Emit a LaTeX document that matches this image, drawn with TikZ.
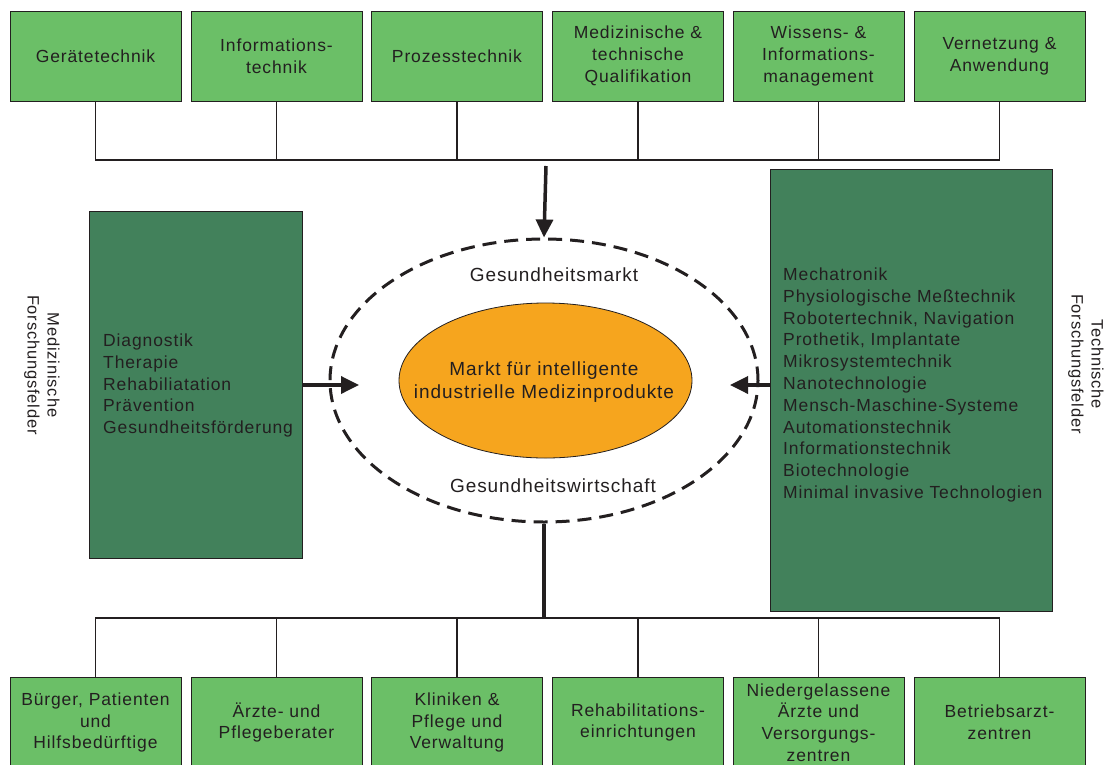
\documentclass[tikz,border=0pt]{standalone}
\usepackage{fontspec}
\setmainfont{Liberation Sans}[LetterSpace=5.0]
\usetikzlibrary{shapes.geometric,arrows.meta}

\definecolor{boxgreen}{RGB}{107,191,103}
\definecolor{fieldgreen}{RGB}{66,129,91}
\definecolor{marktorange}{RGB}{246,165,30}
\definecolor{inkgray}{RGB}{35,31,32}

\newcommand{\boxfont}{\fontsize{17.5}{21.8}\selectfont}
\newcommand{\midfont}{\fontsize{19}{23}\selectfont}
\newcommand{\sidefont}{\fontsize{16.5}{20}\selectfont}

\begin{document}
\begin{tikzpicture}[x=1pt, y=-1pt, font=\boxfont, text=inkgray,
    topic/.style={draw=inkgray, line width=0.8pt, fill=boxgreen, minimum width=171pt,
        minimum height=90pt, text width=165pt, align=center, inner sep=0pt},
    field/.style={draw=inkgray, line width=0.8pt, fill=fieldgreen},
    bus/.style={draw=inkgray, line width=1.2pt},
    bigarrow/.style={draw=inkgray, line width=3.5pt, -{Triangle[length=18pt,width=17pt]}}]

    \useasboundingbox (0,0) rectangle (1109,764);
    \clip (0,0) rectangle (1109,764);
    \fill[white] (0,0) rectangle (1109,764);

    % Top row of topic boxes
    \node[topic] (geraete) at (95.5,56) {Gerätetechnik};
    \node[topic] (info) at (276.5,56) {Informations-\\technik};
    \node[topic] (prozess) at (457,56) {Prozesstechnik};
    \node[topic] (quali) at (638,56) {Medizinische \&\\technische\\Qualifikation};
    \node[topic] (wissen) at (818.5,56) {Wissens- \&\\Informations-\\management};
    \node[topic] (vernetz) at (999.5,56) {Vernetzung \&\\Anwendung};

    % Bottom row of boxes, cut off at the lower edge
    \node[topic, minimum height=91pt] (buerger) at (95.5,722.5) {Bürger, Patienten\\und\\Hilfsbedürftige};
    \node[topic, minimum height=91pt] (aerzte) at (276.5,722.5) {Ärzte- und\\Pflegeberater};
    \node[topic, minimum height=91pt] (kliniken) at (457,722.5) {Kliniken \&\\Pflege und\\Verwaltung};
    \node[topic, minimum height=91pt] (reha) at (638,722.5) {Rehabilitations-\\einrichtungen};
    \node[topic, minimum height=91pt] (niederg) at (818.5,722.5) {Niedergelassene\\Ärzte und\\Versorgungs-\\zentren};
    \node[topic, minimum height=91pt] (betrieb) at (999.5,722.5) {Betriebsarzt-\\zentren};

    % The two research field boxes
    \node[field, minimum width=213pt, minimum height=347pt] (medbox) at (195.5,384.5) {};
    \node[anchor=west, align=left, inner sep=0pt] (medtext) at (103,385.5)
        {Diagnostik\\Therapie\\Rehabiliatation\\Prävention\\Gesundheitsförderung};
    \node[field, minimum width=282pt, minimum height=442pt] (techbox) at (911,390) {};
    \node[anchor=west, align=left, inner sep=0pt] (techtext) at (783,385)
        {Mechatronik\\Physiologische Meßtechnik\\Robotertechnik, Navigation\\Prothetik, Implantate\\Mikrosystemtechnik\\Nanotechnologie\\Mensch-Maschine-Systeme\\Automationstechnik\\Informationstechnik\\Biotechnologie\\Minimal invasive Technologien};

    % Side captions
    \node[font=\sidefont, rotate=-90, align=center] (medlabel) at (42,365) {Medizinische\\Forschungsfelder};
    \node[font=\sidefont, rotate=-90, align=center] (techlabel) at (1086,364) {Technische\\Forschungsfelder};

    % Dashed market ring and the core ellipse
    \node[ellipse, draw=inkgray, line width=3pt, dash pattern=on 14pt off 8pt,
        minimum width=428pt, minimum height=283pt] (markt) at (544,380.5) {};
    \node[ellipse, draw=inkgray, line width=0.8pt, fill=marktorange,
        minimum width=293pt, minimum height=155pt] (kern) at (545.5,380.5) {};
    \node[font=\midfont, align=center] (kerntext) at (544,382)
        {Markt für intelligente\\industrielle Medizinprodukte};
    \node[font=\midfont] (gmarkt) at (554,275) {Gesundheitsmarkt};
    \node[font=\midfont] (gwirt) at (553,486) {Gesundheitswirtschaft};

    % Bus lines
    \coordinate (topbus) at (0,160);
    \coordinate (lowbus) at (0,618);
    \draw[bus] (geraete.south) |- (vernetz.south |- topbus) -- (vernetz.south);
    \draw[bus] (info.south) -- (info.south |- topbus);
    \draw[bus] (prozess.south) -- (prozess.south |- topbus);
    \draw[bus] (quali.south) -- (quali.south |- topbus);
    \draw[bus] (wissen.south) -- (wissen.south |- topbus);

    \draw[bus] (buerger.north) |- (betrieb.north |- lowbus) -- (betrieb.north);
    \draw[bus] (aerzte.north) -- (aerzte.north |- lowbus);
    \draw[bus] (kliniken.north) -- (kliniken.north |- lowbus);
    \draw[bus] (reha.north) -- (reha.north |- lowbus);
    \draw[bus] (niederg.north) -- (niederg.north |- lowbus);

    % Arrows into the market
    \coordinate (topin) at (546,166);
    \coordinate (medtip) at (359,385);
    \coordinate (techtip) at (730,385);
    \draw[bigarrow] (topin) -- (markt.north);
    \draw[bigarrow] (medbox.east |- medtip) -- (medtip);
    \draw[bigarrow] (techbox.west |- techtip) -- (techtip);
    \draw[inkgray, line width=3.5pt] (markt.south) -- (markt.south |- lowbus);

\end{tikzpicture}
\end{document}
